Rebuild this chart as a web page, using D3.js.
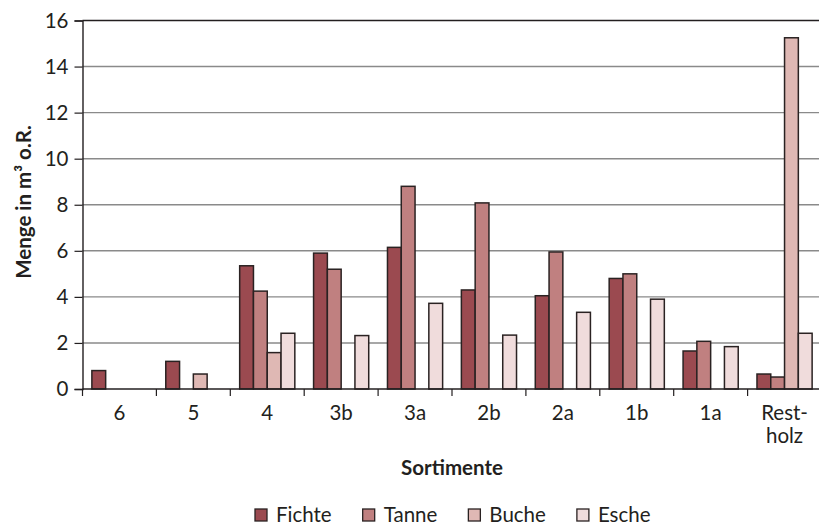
<!DOCTYPE html>
<html>
<head>
<meta charset="utf-8">
<script src="https://cdn.jsdelivr.net/npm/d3@7"></script>
<style>
  body { margin: 0; background: #fff; }
  text { font-family: Lato, "Open Sans", sans-serif; fill: #231f20; }
</style>
</head>
<body>
<script>
// Sortimente (x categories)
var categories = ["6", "5", "4", "3b", "3a", "2b", "2a", "1b", "1a", "Rest-holz"];
var seriesNames = ["Fichte", "Tanne", "Buche", "Esche"];

// values in m³ o.R., null = no bar
var fichte = [0.8, 1.2, 5.35, 5.9, 6.15, 4.3, 4.05, 4.8, 1.65, 0.65];
var tanne  = [null, null, 4.25, 5.2, 8.8, 8.08, 5.95, 5.0, 2.07, 0.52];
var buche  = [null, 0.65, 1.58, null, null, null, null, null, null, 15.25];
var esche  = [null, null, 2.42, 2.32, 3.72, 2.34, 3.33, 3.9, 1.84, 2.42];

var yTicks = [0, 2, 4, 6, 8, 10, 12, 14, 16];
var colors = ["#9b4a50", "#c08080", "#dfb8b4", "#f0dcdc"];

var width = 819;
var height = 528;

var svg = d3.select("body")
	.append("svg")
	.attr("width", width)
	.attr("height", height);

var seriesData = [fichte, tanne, buche, esche];

var x0 = d3.scaleBand()
	.domain(categories)
	.range([82.5, 821.5])
	.padding(0);

var x1 = d3.scaleBand()
	.domain(seriesNames)
	.range([0, x0.bandwidth()])
	.paddingInner(0)
	.paddingOuter(0.68);

var y = d3.scaleLinear()
	.domain([0, 16])
	.range([389, 20.5]);

var color = d3.scaleOrdinal().domain(seriesNames).range(colors);

//gridlines
svg.append("g")
	.selectAll("line")
	.data(yTicks.filter(function(d) { return d > 0; }))
	.enter()
	.append("line")
	.attr("x1", 82.5)
	.attr("x2", width)
	.attr("y1", function(d) { return y(d); })
	.attr("y2", function(d) { return y(d); })
	.attr("stroke", function(d) { return d == 16 ? "#231f20" : "#8a8a8a"; })
	.attr("stroke-width", 1.4);

//bars
var groups = svg.append("g")
	.selectAll("g")
	.data(categories)
	.enter()
	.append("g")
	.attr("transform", function(d) { return "translate(" + x0(d) + ",0)"; });

groups.selectAll("rect")
	.data(function(d, i) {
		return seriesNames.map(function(s, j) {
			return { key: s, value: seriesData[j][i] };
		}).filter(function(e) { return e.value != null; });
	})
	.enter()
	.append("rect")
	.attr("x", function(d) { return x1(d.key); })
	.attr("y", function(d) { return y(d.value); })
	.attr("width", x1.bandwidth())
	.attr("height", function(d) { return y(0) - y(d.value); })
	.attr("fill", function(d) { return color(d.key); })
	.attr("stroke", "#2a2222")
	.attr("stroke-width", 1.5);

//y axis
var yAxis = d3.axisLeft(y)
	.tickValues(yTicks)
	.tickSize(8)
	.tickPadding(6)
	.tickFormat(d3.format("d"));

var gy = svg.append("g")
	.attr("transform", "translate(82.5,0)")
	.call(yAxis);
gy.select(".domain").attr("stroke", "#231f20").attr("stroke-width", 1.4);
gy.selectAll(".tick line").attr("stroke", "#231f20").attr("stroke-width", 1.2);
gy.selectAll(".tick text")
	.style("font-size", "20.5px")
	.attr("fill", "#231f20");

//x axis baseline and boundary ticks
svg.append("line")
	.attr("x1", 82.5)
	.attr("x2", width)
	.attr("y1", y(0))
	.attr("y2", y(0))
	.attr("stroke", "#231f20")
	.attr("stroke-width", 1.4);

svg.append("g")
	.selectAll("line")
	.data(categories)
	.enter()
	.append("line")
	.attr("x1", function(d) { return x0(d); })
	.attr("x2", function(d) { return x0(d); })
	.attr("y1", y(0))
	.attr("y2", y(0) + 7)
	.attr("stroke", "#231f20")
	.attr("stroke-width", 1.2);

//category labels
var catLabels = svg.append("g")
	.selectAll("text")
	.data(categories)
	.enter()
	.append("text")
	.attr("text-anchor", "middle")
	.attr("x", function(d) { return x0(d) + x0.bandwidth() / 2; })
	.attr("y", 420)
	.style("font-size", "20.5px");

catLabels.each(function(d) {
	var parts = d.split("-");
	var t = d3.select(this);
	if (parts.length > 1) {
		t.append("tspan").attr("x", t.attr("x")).attr("dy", 0).text(parts[0] + "-");
		t.append("tspan").attr("x", t.attr("x")).attr("dy", 23).text(parts[1]);
	} else {
		t.text(d);
	}
});

//axis titles
svg.append("text")
	.attr("text-anchor", "middle")
	.attr("x", 452)
	.attr("y", 475)
	.style("font-size", "20.5px")
	.style("font-weight", "bold")
	.text("Sortimente");

svg.append("text")
	.attr("text-anchor", "middle")
	.attr("transform", "translate(31,202) rotate(-90)")
	.style("font-size", "20.5px")
	.style("font-weight", "bold")
	.text("Menge in m³ o.R.");

//legend
var lx = 255;
seriesNames.forEach(function(s) {
	svg.append("rect")
		.attr("x", lx)
		.attr("y", 509)
		.attr("width", 12)
		.attr("height", 12)
		.attr("fill", color(s))
		.attr("stroke", "#2a2222")
		.attr("stroke-width", 1.3);
	var t = svg.append("text")
		.attr("x", lx + 21)
		.attr("y", 521.5)
		.style("font-size", "20.5px")
		.text(s);
	lx += 21 + t.node().getComputedTextLength() + 31;
});
</script>
</body>
</html>
